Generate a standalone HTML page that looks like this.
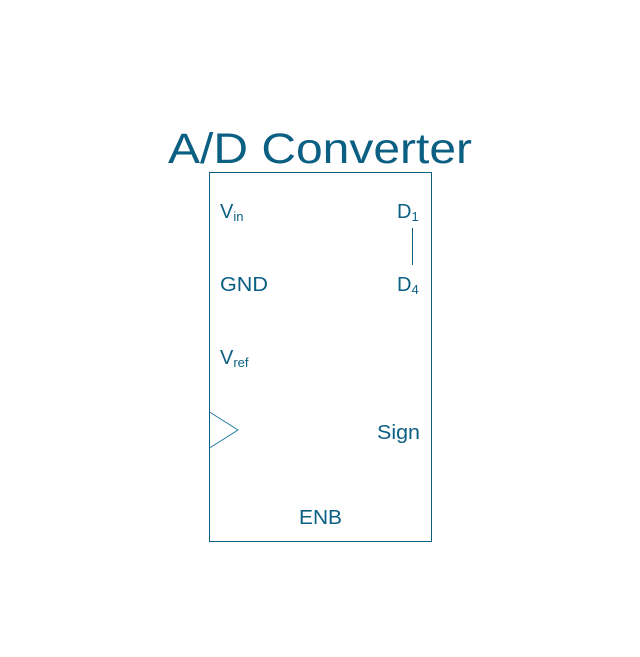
<!DOCTYPE html>
<html><head><meta charset="utf-8"><style>
html,body{margin:0;padding:0;background:#fff;}
svg{display:block;}
text{font-family:"Liberation Sans",sans-serif;fill:#0a5f82;}
</style></head><body>
<svg width="640" height="657" viewBox="0 0 640 657" xmlns="http://www.w3.org/2000/svg">
<text x="320" y="163" font-size="43" text-anchor="middle" textLength="304" lengthAdjust="spacingAndGlyphs">A/D Converter</text>
<rect x="209.5" y="172.5" width="222" height="369" fill="none" stroke="#0a5f82" stroke-width="1"/>
<polyline points="209.5,412 238,430 209.5,448" fill="none" stroke="#1f7aa0" stroke-width="1"/>
<line x1="412.5" y1="228" x2="412.5" y2="265" stroke="#0a5f82" stroke-width="1"/>
<text x="220" y="218" font-size="20">V<tspan font-size="13" dy="3">in</tspan></text>
<text x="220" y="291" font-size="20" textLength="48" lengthAdjust="spacingAndGlyphs">GND</text>
<text x="220" y="364" font-size="20">V<tspan font-size="13" dy="3">ref</tspan></text>
<text x="397" y="218" font-size="20">D<tspan font-size="13" dy="3">1</tspan></text>
<text x="397" y="291" font-size="20">D<tspan font-size="13" dy="3">4</tspan></text>
<text x="377" y="439" font-size="20" textLength="43" lengthAdjust="spacingAndGlyphs">Sign</text>
<text x="299" y="524" font-size="20" textLength="43" lengthAdjust="spacingAndGlyphs">ENB</text>
</svg>
</body></html>
